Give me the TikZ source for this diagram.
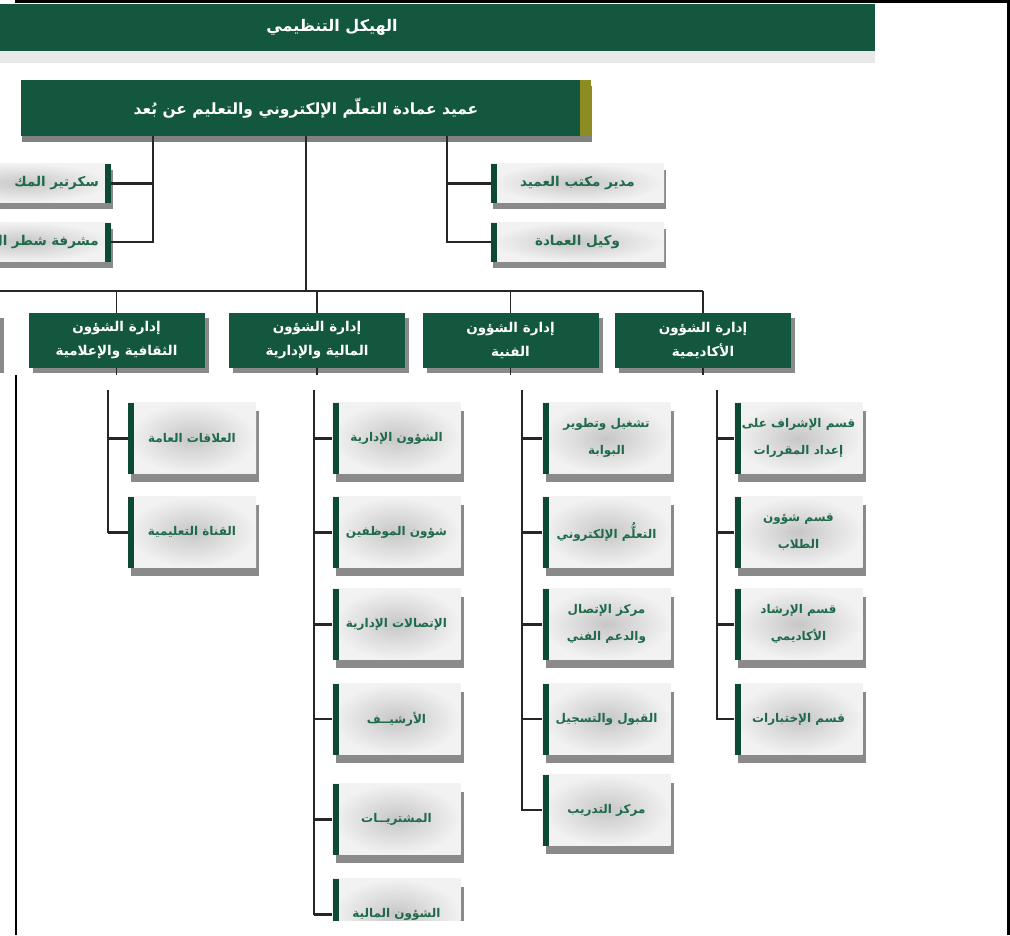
\documentclass[tikz,border=0pt]{standalone}
\usepackage{fontspec}
\newfontfamily\arabicfont[Script=Arabic]{DejaVu Sans}
\TeXXeTstate=1
\usetikzlibrary{shadows}

\definecolor{boardgreen}{HTML}{14573F}
\definecolor{stripegreen}{HTML}{0D4A33}
\definecolor{labelgreen}{HTML}{1F6A4B}
\definecolor{olivebar}{HTML}{8C8C22}
\newcommand{\artxt}[1]{\beginR #1\endR}

\begin{document}
\begin{tikzpicture}[x=1pt, y=-1pt,
    deanbox/.style={rectangle, fill=boardgreen, text=white, minimum width=570pt, minimum height=56pt,
        font=\arabicfont\bfseries\fontsize{15.5}{18}\selectfont,
        drop shadow={shadow xshift=1pt, shadow yshift=-6pt, opacity=.7, fill=black!70},
        path picture={\fill[olivebar] ([xshift=-11pt]path picture bounding box.north east) rectangle (path picture bounding box.south east);}},
    staffbox/.style={rectangle, inner color=black!22, outer color=black!5, text=labelgreen,
        minimum width=173pt, minimum height=39pt,
        font=\arabicfont\bfseries\fontsize{13.5}{16}\selectfont,
        drop shadow={shadow xshift=2pt, shadow yshift=-6pt, opacity=.65, fill=black!70},
        path picture={\fill[stripegreen] (path picture bounding box.north west) rectangle ([xshift=6pt]path picture bounding box.south west);}},
    staffboxl/.style={staffbox, text width=150pt, align=right, inner xsep=12pt,
        path picture={\fill[stripegreen] ([xshift=-6pt]path picture bounding box.north east) rectangle (path picture bounding box.south east);}},
    deptbox/.style={rectangle, fill=boardgreen, text=white, minimum width=176pt, minimum height=55pt, align=center,
        font=\arabicfont\bfseries\fontsize{13.5}{24}\selectfont,
        drop shadow={shadow xshift=4pt, shadow yshift=-5pt, opacity=.65, fill=black!70}},
    unitbox/.style={rectangle, inner color=black!22, outer color=black!5, text=labelgreen,
        minimum width=128pt, minimum height=71pt, align=center,
        font=\arabicfont\bfseries\fontsize{12}{27}\selectfont,
        drop shadow={shadow xshift=3pt, shadow yshift=-8pt, opacity=.65, fill=black!70},
        path picture={\fill[stripegreen] (path picture bounding box.north west) rectangle ([xshift=6pt]path picture bounding box.south west);}},
    link/.style={draw=black!85, line width=1.4pt},
    tie/.style={draw=black!85, line width=3pt},
    busline/.style={draw=black!85, line width=2.4pt}
]
\useasboundingbox (0,0) rectangle (1010,935);

% Frame
\draw[line width=3pt] (15,1.5) -- (1010,1.5);
\draw[line width=3pt] (1008.5,0) -- (1008.5,935);
\draw[line width=2pt] (16,375) -- (16,935);

% Header
\fill[boardgreen] (0,4) rectangle (875,51);
\fill[black!9] (0,51) rectangle (875,63);
\node[text=white, font=\arabicfont\bfseries\fontsize{16}{18}\selectfont] (title) at (332,27) {\artxt{الهيكل التنظيمي}};

% Nodes
\node[deanbox] (dean) at (306,108) {\artxt{عميد عمادة التعلّم الإلكتروني والتعليم عن بُعد}};
\node[staffbox] (mgr) at (577.5,183) {\artxt{مدير مكتب العميد}};
\node[staffbox] (vice) at (577.5,242) {\artxt{وكيل العمادة}};
\node[staffboxl, anchor=east] (sec) at (111,183) {\artxt{سكرتير المك}};
\node[staffboxl, anchor=east] (sup) at (111,242) {\artxt{مشرفة شطر ال}};

\node[deptbox, anchor=east] (other) at (0,340.5) {};
\node[deptbox] (cult) at (116.5,340.5) {\artxt{إدارة الشؤون}\\\artxt{الثقافية والإعلامية}};
\node[deptbox] (fin) at (317,340.5) {\artxt{إدارة الشؤون}\\\artxt{المالية والإدارية}};
\node[deptbox] (tech) at (510.5,340.5) {\artxt{إدارة الشؤون}\\\artxt{الفنية}};
\node[deptbox] (acad) at (703,340.5) {\artxt{إدارة الشؤون}\\\artxt{الأكاديمية}};

% Connectors
\coordinate (ltrunk) at (153,0);
\coordinate (rtrunk) at (447,0);
\coordinate (bus) at (0,291);
\coordinate (stubend) at (0,375);

\draw[link] (dean.south -| ltrunk) |- (sup.east);
\draw[tie] (ltrunk |- sec.east) -- (sec.east);
\draw[link] (dean.south -| rtrunk) |- (vice.west);
\draw[tie] (rtrunk |- mgr.west) -- (mgr.west);
\draw[link] (dean.south) -- (dean.south |- bus);
\draw[busline] (other.north |- bus) -- (acad.north |- bus);
\draw[link] (cult.north) -- (cult.north |- bus);
\draw[link] (fin.north) -- (fin.north |- bus);
\draw[link] (tech.north) -- (tech.north |- bus);
\draw[link] (acad.north) -- (acad.north |- bus);
\draw[link] (cult.south) -- (cult.south |- stubend);
\draw[link] (fin.south) -- (fin.south |- stubend);
\draw[link] (tech.south) -- (tech.south |- stubend);
\draw[link] (acad.south) -- (acad.south |- stubend);

% Units
\begin{scope}
\clip (0,380) rectangle (1000,920);
\node[unitbox] (relations) at (192,438) {\artxt{العلاقات العامة}};
\node[unitbox] (channel) at (192,532) {\artxt{القناة التعليمية}};

\node[unitbox] (admin) at (396.5,438) {\artxt{الشؤون الإدارية}};
\node[unitbox] (staff) at (396.5,532) {\artxt{شؤون الموظفين}};
\node[unitbox] (comms) at (396.5,624) {\artxt{الإتصالات الإدارية}};
\node[unitbox] (archive) at (396.5,719) {\artxt{الأرشيــف}};
\node[unitbox] (purchase) at (396.5,819) {\artxt{المشتريــات}};
\node[unitbox] (finance) at (396.5,914) {\artxt{الشؤون المالية}};

\node[unitbox] (portal) at (606.5,438) {\artxt{تشغيل وتطوير}\\\artxt{البوابة}};
\node[unitbox] (elearn) at (606.5,532) {\artxt{التعلُّم الإلكتروني}};
\node[unitbox] (support) at (606.5,624) {\artxt{مركز الإتصال}\\\artxt{والدعم الفني}};
\node[unitbox] (admission) at (606.5,719) {\artxt{القبول والتسجيل}};
\node[unitbox] (training) at (606.5,810) {\artxt{مركز التدريب}};

\node[unitbox] (courses) at (798.5,438) {\artxt{قسم الإشراف على}\\\artxt{إعداد المقررات}};
\node[unitbox] (students) at (798.5,532) {\artxt{قسم شؤون}\\\artxt{الطلاب}};
\node[unitbox] (advising) at (798.5,624) {\artxt{قسم الإرشاد}\\\artxt{الأكاديمي}};
\node[unitbox] (exams) at (798.5,719) {\artxt{قسم الإختبارات}};

\coordinate (cultcol) at (108,390);
\coordinate (fincol) at (314,390);
\coordinate (techcol) at (522,390);
\coordinate (acadcol) at (717,390);

\draw[link] (cultcol) |- (channel.west);
\draw[tie] (cultcol |- relations.west) -- (relations.west);
\draw[tie] (cultcol |- channel.west) -- (channel.west);

\draw[link] (fincol) |- (finance.west);
\draw[link] (fincol |- archive.west) -- (archive.west);
\draw[tie] (fincol |- admin.west) -- (admin.west);
\draw[tie] (fincol |- staff.west) -- (staff.west);
\draw[tie] (fincol |- comms.west) -- (comms.west);
\draw[tie] (fincol |- purchase.west) -- (purchase.west);
\draw[tie] (fincol |- finance.west) -- (finance.west);

\draw[link] (techcol) |- (training.west);
\draw[link] (techcol |- admission.west) -- (admission.west);
\draw[tie] (techcol |- portal.west) -- (portal.west);
\draw[tie] (techcol |- elearn.west) -- (elearn.west);
\draw[tie] (techcol |- support.west) -- (support.west);

\draw[link] (acadcol) |- (exams.west);
\draw[tie] (acadcol |- courses.west) -- (courses.west);
\draw[tie] (acadcol |- students.west) -- (students.west);
\draw[tie] (acadcol |- advising.west) -- (advising.west);
\end{scope}

\end{tikzpicture}
\end{document}
